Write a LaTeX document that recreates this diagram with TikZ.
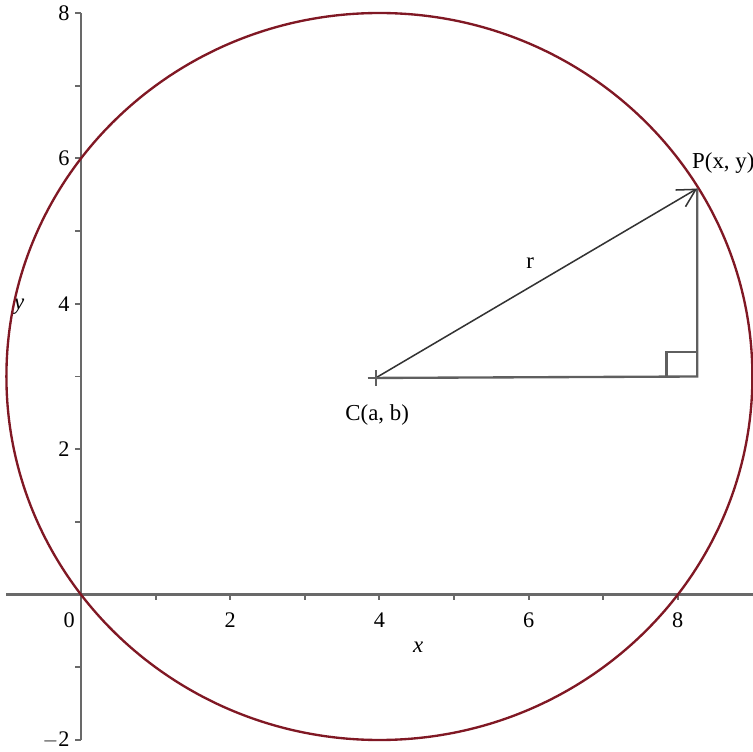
\documentclass[tikz,border=0pt]{standalone}
\usepackage{fontspec}
\setmainfont{Liberation Serif}
\usetikzlibrary{arrows.meta}
\definecolor{circred}{RGB}{128,24,36}
\definecolor{axgray}{RGB}{105,105,105}
\definecolor{lngray}{RGB}{95,95,95}
\tikzset{
  axis/.style={draw=axgray, line width=2pt},
  tickmark/.style={draw=axgray, line width=1.6pt},
  ticklab/.style={font=\fontsize{19}{21}\selectfont, inner sep=0pt},
  lab/.style={font=\fontsize{19.5}{21}\selectfont, inner sep=0pt},
  circ/.style={draw=circred, line width=2pt},
  leg/.style={draw=lngray, line width=2pt},
  hyp/.style={draw=black!80, line width=1.3pt}
}
\begin{document}
\begin{tikzpicture}[x=2.238cm, y=2.181cm]
\useasboundingbox (-1.086,-2.165) rectangle (9.008,8.179);
% axes
\coordinate (xl) at (-1,0);
\coordinate (xr) at (9.05,0);
\coordinate (yb) at (0,-2);
\coordinate (yt) at (0,8);
\draw[axis] (xl) -- (xr);
\draw[axis] (yb) -- (yt);
% x ticks
\foreach \i in {1,...,8} \draw[tickmark] (\i,0) -- (\i,-0.08);
% y ticks
\foreach \j in {-2,...,8} \draw[tickmark] (0,\j) -- (-0.085,\j);
% tick labels
\foreach \i in {2,4,6,8} \node[ticklab] (xt\i) at (\i,-0.35) {\i};
\node[ticklab] (x0) at (-0.16,-0.35) {0};
\foreach \j in {2,4,6,8} \node[ticklab, anchor=east] (yt\j) at (-0.15,\j) {\j};
\node[ticklab, anchor=east] (ytm2) at (-0.15,-2) {$-$2};
% axis labels
\node[lab] (xlab) at (4.52,-0.73) {\itshape x};
\node[lab] (ylab) at (-0.83,3.96) {\itshape y};
% circle
\draw[circ] (4,3) ellipse [x radius=5, y radius=5];
% triangle
\coordinate (C) at (3.95,2.98);
\coordinate (Q) at (8.26,3.0);
\coordinate (P) at (8.26,5.585);
\draw[leg] (C) -- (Q) -- (P);
\draw[leg] (7.85,3.0) -- (7.85,3.335) -- (8.26,3.335);
\draw[hyp, -{Straight Barb[length=5.3mm,width=5.8mm,line width=1.3pt]}] (C) -- (P);
% cross at C
\draw[leg, line width=1.6pt] ([xshift=-0.24cm]C) -- ([xshift=0.24cm]C);
\draw[leg, line width=1.6pt] ([yshift=-0.24cm]C) -- ([yshift=0.24cm]C);
% labels
\node[lab] (rlab) at (6.02,4.56) {r};
\node[lab] (Clab) at (3.97,2.47) {C(a, b)};
\node[lab, anchor=west] (Plab) at (8.19,5.93) {P(x, y)};
\end{tikzpicture}
\end{document}
